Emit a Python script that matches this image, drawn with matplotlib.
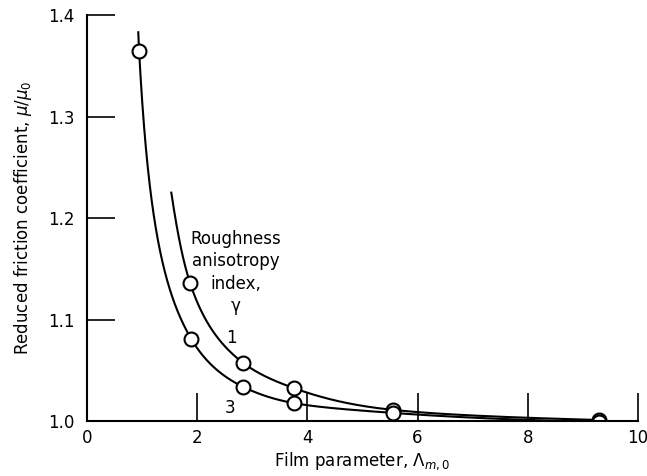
import numpy as np
import matplotlib
matplotlib.use("Agg")
import matplotlib.pyplot as plt
from matplotlib import font_manager

names = {f.name for f in font_manager.fontManager.ttflist}
fam = [n for n in ['DejaVu Sans Condensed', 'Liberation Sans Narrow'] if n in names] + ['DejaVu Sans']
plt.rcParams['font.family'] = fam
plt.rcParams['mathtext.fontset'] = 'dejavusans'

# Data
# gamma = 1 (upper curve)
x_g1 = [1.87, 2.84, 3.75, 5.55, 9.3]
y_g1 = [1.136, 1.057, 1.0325, 1.011, 1.001]
# curve start (no marker) for gamma = 1
x_g1_start = 1.53
y_g1_start = 1.225

# gamma = 3 (lower curve)
x_g3 = [0.945, 1.89, 2.84, 3.75, 5.55, 9.3]
y_g3 = [1.365, 1.081, 1.0335, 1.0177, 1.008, 0.999]
x_g3_start = 0.93
y_g3_start = 1.383

xticks = [0, 2, 4, 6, 8, 10]
yticks = [1.0, 1.1, 1.2, 1.3, 1.4]


def pchip(xk, yk, xs):
    xk = np.asarray(xk, float); yk = np.asarray(yk, float)
    h = np.diff(xk); d = np.diff(yk) / h
    n = len(xk); m = np.zeros(n)
    for i in range(1, n - 1):
        if d[i - 1] * d[i] > 0:
            w1 = 2 * h[i] + h[i - 1]; w2 = h[i] + 2 * h[i - 1]
            m[i] = (w1 + w2) / (w1 / d[i - 1] + w2 / d[i])
    m[0] = d[0]; m[-1] = d[-1]
    out = np.empty_like(xs)
    for j, x in enumerate(xs):
        i = min(max(np.searchsorted(xk, x) - 1, 0), n - 2)
        t = (x - xk[i]) / h[i]
        h00 = 2*t**3 - 3*t**2 + 1; h10 = t**3 - 2*t**2 + t
        h01 = -2*t**3 + 3*t**2; h11 = t**3 - t**2
        out[j] = h00*yk[i] + h10*h[i]*m[i] + h01*yk[i+1] + h11*h[i]*m[i+1]
    return out


def smooth(xs, ys):
    lx = np.log(np.asarray(xs))
    ly = np.log(np.asarray(ys) - 0.99)
    t = np.linspace(lx[0], lx[-1], 300)
    return np.exp(t), np.exp(pchip(lx, ly, t)) + 0.99


fig = plt.figure(figsize=(6.47, 4.76), dpi=100)
ax = fig.add_axes([0.1345, 0.1155, 0.8515, 0.853])

for xs, ys, x0, y0 in [(x_g1, y_g1, x_g1_start, y_g1_start),
                       (x_g3, y_g3, x_g3_start, y_g3_start)]:
    cx, cy = smooth([x0] + xs, [y0] + ys)
    ax.plot(cx, cy, color='black', lw=1.5)
    ax.plot(xs, ys, 'o', ms=10, mfc='white', mec='black', mew=1.5)

ax.set_xlim(0, 10)
ax.set_ylim(1.0, 1.4)
ax.set_xticks(xticks)
ax.set_yticks(yticks)
ax.set_xticklabels([str(v) for v in xticks], fontsize=12)
ax.set_yticklabels([f"{v:.1f}" for v in yticks], fontsize=12)
ax.tick_params(direction='in', length=20, width=1.2, color='black')
ax.tick_params(axis='x', pad=6)
ax.tick_params(axis='y', pad=9)
for s in ['top', 'right']:
    ax.spines[s].set_visible(False)
for s in ['left', 'bottom']:
    ax.spines[s].set_linewidth(1.5)

ax.set_xlabel(r"Film parameter, $\Lambda_{m,0}$", fontsize=12, labelpad=2)
ax.set_ylabel(r"Reduced friction coefficient, $\mu/\mu_0$", fontsize=12, labelpad=10)

ax.text(2.7, 1.188, "Roughness\nanisotropy\nindex,\nγ", ha='center', va='top',
        fontsize=12, linespacing=1.3)
ax.text(2.62, 1.082, "1", ha='center', va='center', fontsize=12)
ax.text(2.6, 1.013, "3", ha='center', va='center', fontsize=12)

fig.savefig("out.png", dpi=100)
